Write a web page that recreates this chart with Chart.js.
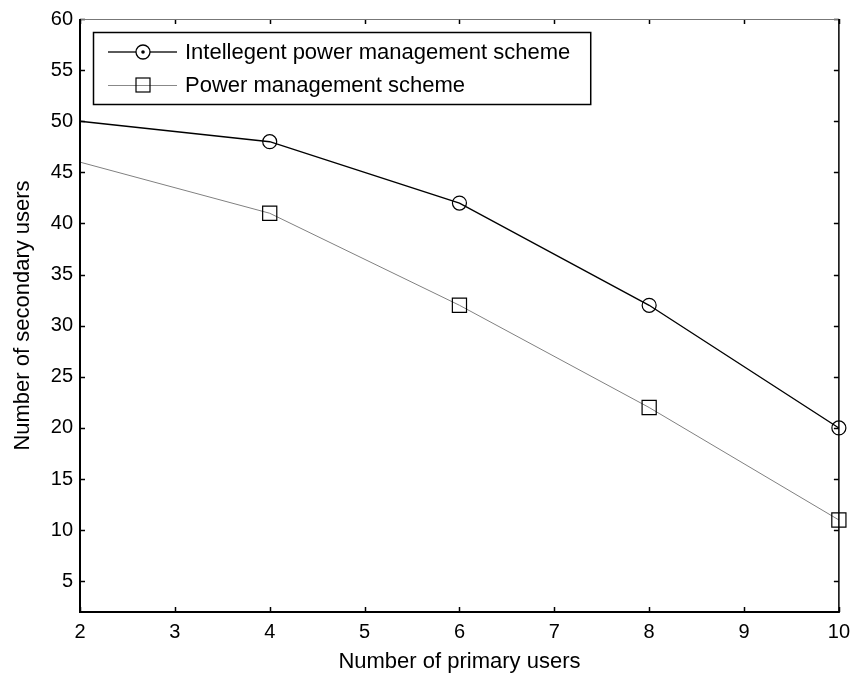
<!DOCTYPE html>
<html>
<head>
<meta charset="utf-8">
<script src="https://cdn.jsdelivr.net/npm/chart.js@4.4.0/dist/chart.umd.min.js"></script>
<style>
  html, body { margin: 0; padding: 0; background: #fff; }
  #grafico { display: block; }
</style>
</head>
<body>
<canvas id="grafico" width="858" height="679"></canvas>
<script>
// dados
const primaryUsers = [2, 4, 6, 8, 10];
const intelligentScheme = [50, 48, 42, 32, 20];
const powerScheme = [46, 41, 32, 22, 11];
const seriesNames = ['Intellegent power management scheme', 'Power management scheme'];
const xTicks = [2, 3, 4, 5, 6, 7, 8, 9, 10];
const yTicks = [5, 10, 15, 20, 25, 30, 35, 40, 45, 50, 55, 60];

const FONTE = 'Liberation Sans, Arial, Helvetica, sans-serif';

function toPoints(ys) {
  return primaryUsers.map((x, i) => ({ x: x, y: ys[i] }));
}

// moldura estilo matlab: caixa, ticks para dentro e legenda dentro do gráfico
const molduraMatlab = {
  id: 'molduraMatlab',
  afterDraw(chart) {
    const { ctx, chartArea: a, scales: { x, y } } = chart;
    const tick = 5;
    ctx.save();

    const linha = (x1, y1, x2, y2) => {
      ctx.beginPath();
      ctx.moveTo(x1, y1);
      ctx.lineTo(x2, y2);
      ctx.stroke();
    };

    ctx.strokeStyle = '#000';
    ctx.lineWidth = 1.5;
    xTicks.forEach(v => {
      const px = Math.round(x.getPixelForValue(v)) + 0.5;
      linha(px, a.bottom, px, a.bottom - tick);
      linha(px, a.top, px, a.top + tick);
    });
    yTicks.forEach(v => {
      const py = Math.round(y.getPixelForValue(v)) + 0.5;
      linha(a.left, py, a.left + tick, py);
      linha(a.right, py, a.right - tick, py);
    });

    // bordas
    ctx.lineWidth = 1;
    ctx.strokeStyle = '#777';
    linha(a.left, a.top + 0.5, a.right, a.top + 0.5);
    ctx.strokeStyle = '#000';
    ctx.lineWidth = 1.5;
    linha(a.right, a.top, a.right, a.bottom);
    ctx.lineWidth = 2;
    linha(a.left, a.top, a.left, a.bottom + 1);
    linha(a.left - 1, a.bottom, a.right + 1, a.bottom);

    // legenda
    ctx.font = '22px ' + FONTE;
    const larguraTexto = Math.max(...seriesNames.map(t => ctx.measureText(t).width));
    const lx = a.left + 13;
    const ly = a.top + 13;
    const textoX = lx + 92;
    const lw = textoX - lx + larguraTexto + 20;
    const lh = 72;
    ctx.fillStyle = '#fff';
    ctx.fillRect(lx, ly, lw, lh);
    ctx.strokeStyle = '#000';
    ctx.lineWidth = 1.5;
    ctx.strokeRect(lx + 0.5, ly + 0.5, lw, lh);

    const linhas = [ly + 20, ly + 53];
    const mx = lx + 50;

    // serie 1: linha preta e círculo com ponto
    ctx.strokeStyle = '#000';
    ctx.lineWidth = 1.3;
    linha(lx + 15, linhas[0], mx - 7, linhas[0]);
    linha(mx + 7, linhas[0], lx + 84, linhas[0]);
    ctx.beginPath();
    ctx.arc(mx, linhas[0], 7, 0, Math.PI * 2);
    ctx.stroke();
    ctx.fillStyle = '#000';
    ctx.beginPath();
    ctx.arc(mx, linhas[0], 1.8, 0, Math.PI * 2);
    ctx.fill();

    // serie 2: linha cinza e quadrado
    ctx.strokeStyle = '#888';
    ctx.lineWidth = 1;
    linha(lx + 15, linhas[1] + 0.5, lx + 84, linhas[1] + 0.5);
    ctx.strokeStyle = '#000';
    ctx.lineWidth = 1.2;
    ctx.strokeRect(mx - 7, linhas[1] - 7, 14, 14);

    ctx.fillStyle = '#000';
    ctx.textAlign = 'left';
    ctx.textBaseline = 'middle';
    ctx.fillText(seriesNames[0], textoX, linhas[0] + 1);
    ctx.fillText(seriesNames[1], textoX, linhas[1] + 1);

    ctx.restore();
  }
};

const semPrimeiro = (valor) => (c) => (c.dataIndex === 0 ? 0 : valor);

new Chart(document.getElementById('grafico'), {
  type: 'line',
  data: {
    datasets: [
      {
        label: seriesNames[0],
        data: toPoints(intelligentScheme),
        borderColor: '#000',
        borderWidth: 1.4,
        pointStyle: 'circle',
        pointRadius: semPrimeiro(7),
        pointBorderColor: '#000',
        pointBackgroundColor: 'rgba(0,0,0,0)',
        pointBorderWidth: 1.2,
        tension: 0,
        clip: false
      },
      {
        label: seriesNames[1],
        data: toPoints(powerScheme),
        borderColor: '#808080',
        borderWidth: 1,
        pointStyle: 'rect',
        pointRadius: semPrimeiro(10),
        pointBorderColor: '#000',
        pointBackgroundColor: 'rgba(0,0,0,0)',
        pointBorderWidth: 1.2,
        tension: 0,
        clip: false
      }
    ]
  },
  options: {
    responsive: false,
    animation: false,
    devicePixelRatio: 1,
    layout: { padding: { top: 15, right: 18, left: 0, bottom: 0 } },
    plugins: {
      legend: { display: false },
      tooltip: { enabled: false }
    },
    scales: {
      x: {
        type: 'linear',
        min: 2,
        max: 10,
        afterBuildTicks: (scale) => { scale.ticks = xTicks.map(v => ({ value: v })); },
        afterFit: (scale) => { scale.height = 67; },
        grid: { display: false, drawTicks: false },
        border: { display: false },
        ticks: { color: '#000', padding: 8, font: { family: FONTE, size: 20 } },
        title: {
          display: true,
          text: 'Number of primary users',
          color: '#000',
          padding: { top: 0, bottom: 4 },
          font: { family: FONTE, size: 22 }
        }
      },
      y: {
        type: 'linear',
        min: 2,
        max: 60,
        afterBuildTicks: (scale) => { scale.ticks = yTicks.map(v => ({ value: v })); },
        afterFit: (scale) => { scale.width = 80; },
        grid: { display: false, drawTicks: false },
        border: { display: false },
        ticks: { color: '#000', padding: 7, font: { family: FONTE, size: 20 } },
        title: {
          display: true,
          text: 'Number of secondary users',
          color: '#000',
          padding: { top: 10, bottom: 0 },
          font: { family: FONTE, size: 22 }
        }
      }
    }
  },
  plugins: [molduraMatlab]
});
</script>
</body>
</html>
